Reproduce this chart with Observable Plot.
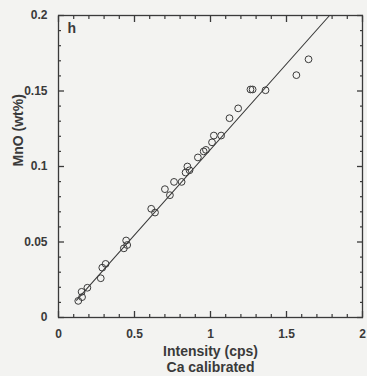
<!DOCTYPE html>
<html><head><meta charset="utf-8">
<script src="https://cdn.jsdelivr.net/npm/d3@7"></script>
<script src="https://cdn.jsdelivr.net/npm/@observablehq/plot@0.6"></script>
<style>
html,body{margin:0;padding:0;background:#f3f3f1;}
svg{display:block;}
</style>
</head><body><div id="chart"></div>
<script>
// Data
const intensity = [0.13, 0.155, 0.152, 0.19, 0.278, 0.288, 0.31, 0.43, 0.452, 0.445,
  0.61, 0.635, 0.70, 0.733, 0.76, 0.81, 0.836, 0.848, 0.862, 0.917, 0.955, 0.97,
  1.01, 1.022, 1.07, 1.125, 1.182, 1.263, 1.277, 1.362, 1.565, 1.645];
const mnoWt = [0.011, 0.0135, 0.017, 0.0197, 0.026, 0.033, 0.0355, 0.0458, 0.048, 0.051,
  0.072, 0.0695, 0.085, 0.081, 0.0898, 0.0898, 0.096, 0.100, 0.0975, 0.106, 0.110, 0.111,
  0.116, 0.1205, 0.1205, 0.132, 0.1385, 0.151, 0.151, 0.1505, 0.1605, 0.171];
const fitX = [0.118, 1.783];
const fitY = [0.0114, 0.2];

const xMajor = [0, 0.5, 1, 1.5, 2];
const xMajorLabels = ["0", "0.5", "1", "1.5", "2"];
const xMinor = [0.1, 0.2, 0.3, 0.4, 0.6, 0.7, 0.8, 0.9, 1.1, 1.2, 1.3, 1.4, 1.6, 1.7, 1.8, 1.9];
const yMajor = [0, 0.05, 0.1, 0.15, 0.2];
const yMajorLabels = ["0", "0.05", "0.1", "0.15", "0.2"];
const yMinor = [0.01, 0.02, 0.03, 0.04, 0.06, 0.07, 0.08, 0.09, 0.11, 0.12, 0.13, 0.14, 0.16, 0.17, 0.18, 0.19];

const panelLabel = "h";
const xLabel1 = "Intensity (cps)";
const xLabel2 = "Ca calibrated";
const yLabel = "MnO (wt%)";

const points = intensity.map((x, i) => ({x, y: mnoWt[i]}));
const fit = fitX.map((x, i) => ({x, y: fitY[i]}));

const ink = "#3a3a3a";
const font = "'Liberation Sans', Arial, sans-serif";
const majorLen = 6, minorLen = 3;

// inward-pointing tick marks drawn by axis marks shifted back into the frame
function inwardTicks(axis, ticks, anchor, len, sw) {
  const shift = {bottom: {dy: -len}, top: {dy: len}, left: {dx: len}, right: {dx: -len}}[anchor];
  return axis(ticks, {anchor, tickSize: len, fill: "none", stroke: ink, strokeWidth: sw, label: null, ...shift});
}

const chart = Plot.plot({
  width: 367,
  height: 376,
  marginLeft: 58,
  marginRight: 5,
  marginTop: 15,
  marginBottom: 59,
  style: {background: "#f3f3f1", fontFamily: font, color: ink},
  x: {domain: [0, 2]},
  y: {domain: [0, 0.2]},
  marks: [
    inwardTicks(Plot.axisX, xMajor, "bottom", majorLen, 1.3),
    inwardTicks(Plot.axisX, xMinor, "bottom", minorLen, 1.2),
    inwardTicks(Plot.axisX, xMajor, "top", majorLen, 1.3),
    inwardTicks(Plot.axisX, xMinor, "top", minorLen, 1.2),
    inwardTicks(Plot.axisY, yMajor, "left", majorLen, 1.3),
    inwardTicks(Plot.axisY, yMinor, "left", minorLen, 1.2),
    inwardTicks(Plot.axisY, yMajor, "right", majorLen, 1.3),
    inwardTicks(Plot.axisY, yMinor, "right", minorLen, 1.2),
    Plot.frame({stroke: ink, strokeWidth: 1.3}),
    // tick labels
    Plot.axisX(xMajor, {anchor: "bottom", tickSize: 0, tickPadding: 12, label: null,
      tickFormat: (d, i) => xMajorLabels[i], fontSize: 12, fontWeight: "bold", fill: ink}),
    Plot.axisY(yMajor, {anchor: "left", tickSize: 0, tickPadding: 11, label: null,
      tickFormat: (d, i) => yMajorLabels[i], fontSize: 12, fontWeight: "bold", fill: ink}),
    // data
    Plot.line(fit, {x: "x", y: "y", stroke: ink, strokeWidth: 1.1}),
    Plot.dot(points, {x: "x", y: "y", r: 3.4, stroke: ink, strokeWidth: 1, fill: "none"}),
    // labels
    Plot.text([panelLabel], {frameAnchor: "top-left", dx: 9, dy: 8, textAnchor: "start", lineAnchor: "top",
      fontSize: 14, fontWeight: "bold", fill: ink}),
    Plot.text([xLabel1], {frameAnchor: "bottom", dy: 34, lineAnchor: "middle", fontSize: 14, fontWeight: "bold", fill: ink}),
    Plot.text([xLabel2], {frameAnchor: "bottom", dy: 50, lineAnchor: "middle", fontSize: 14, fontWeight: "bold", fill: ink}),
    Plot.text([yLabel], {frameAnchor: "left", dx: -40, rotate: -90, lineAnchor: "middle", fontSize: 14, fontWeight: "bold", fill: ink})
  ]
});
document.getElementById("chart").append(chart);
</script>
</body></html>
